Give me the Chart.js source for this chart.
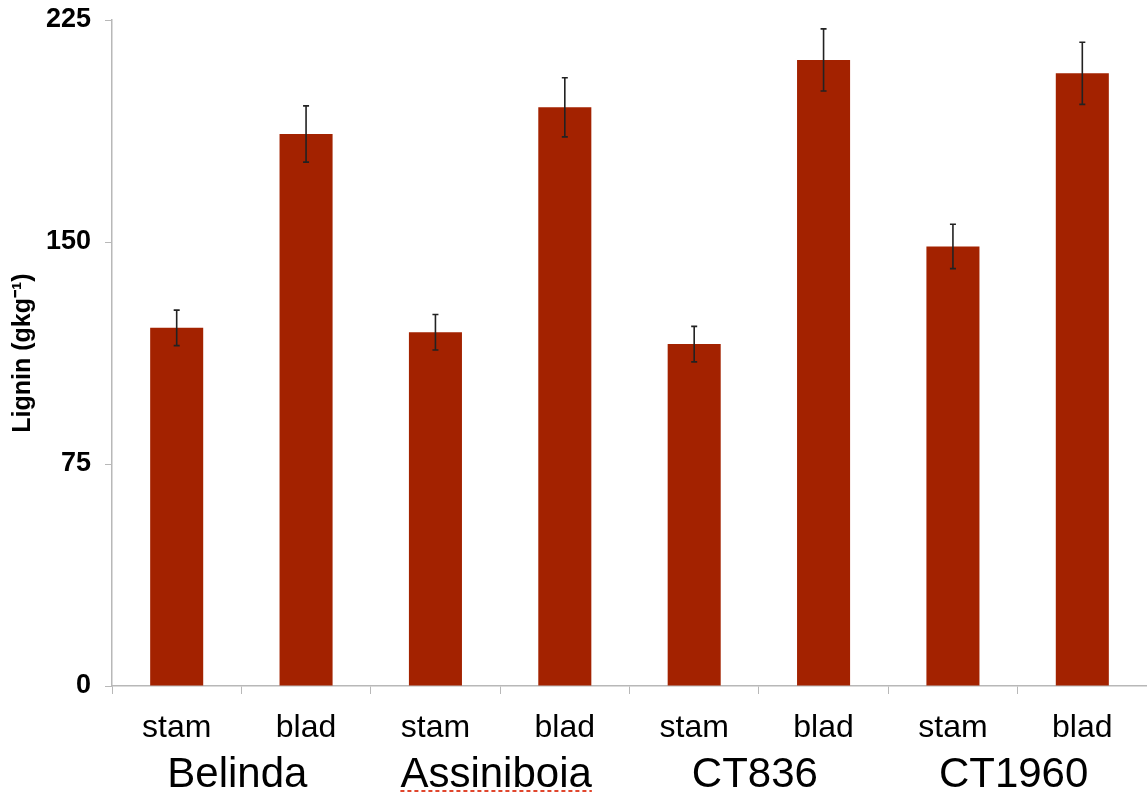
<!DOCTYPE html>
<html>
<head>
<meta charset="utf-8">
<script src="https://cdn.jsdelivr.net/npm/chart.js@4.4.0/dist/chart.umd.min.js"></script>
<style>
    html, body { margin: 0; padding: 0; background: #fff; }
    #wrap { width: 1147px; height: 792px; position: relative; }
</style>
</head>
<body>
<div id="wrap"><canvas id="ligninChart"></canvas></div>
<script>
// Lignin content per cultivar, stem (stam) and leaf blade (blad)
const cultivars = ["Belinda", "Assiniboia", "CT836", "CT1960"];
const parts = ["stam", "blad"];
const lignin = [121, 186.5, 119.5, 195.5, 115.5, 211.5, 148.5, 207];
const ligninErr = [6, 9.5, 6, 10, 6, 10.5, 7.5, 10.5];
const yTicks = [0, 75, 150, 225];
const underlined = ["Assiniboia"];

const labels = [];
cultivars.forEach(function () {
    parts.forEach(function (p) { labels.push(p); });
});

const FONT = "'Liberation Sans', Arial, Helvetica, sans-serif";

// error bars with small caps
const errorBars = {
    id: "errorBars",
    afterDatasetsDraw: function (chart) {
        var ctx = chart.ctx;
        var meta = chart.getDatasetMeta(0);
        var y = chart.scales.y;
        ctx.save();
        ctx.strokeStyle = "#222";
        ctx.lineWidth = 1.6;
        meta.data.forEach(function (bar, i) {
            var v = lignin[i], e = ligninErr[i];
            var top = y.getPixelForValue(v + e);
            var bot = y.getPixelForValue(v - e);
            ctx.beginPath();
            ctx.moveTo(bar.x, top);
            ctx.lineTo(bar.x, bot);
            ctx.moveTo(bar.x - 3, top);
            ctx.lineTo(bar.x + 3, top);
            ctx.moveTo(bar.x - 3, bot);
            ctx.lineTo(bar.x + 3, bot);
            ctx.stroke();
        });
        ctx.restore();
    }
};

// cultivar names under each stam/blad pair
const groupLabels = {
    id: "groupLabels",
    afterDraw: function (chart) {
        var ctx = chart.ctx;
        var x = chart.scales.x;
        ctx.save();
        ctx.font = "42px " + FONT;
        ctx.fillStyle = "#000";
        ctx.textAlign = "center";
        ctx.textBaseline = "alphabetic";
        cultivars.forEach(function (name, g) {
            var cx = (x.getPixelForValue(g * 2) + x.getPixelForValue(g * 2 + 1)) / 2 - 4;
            var base = chart.chartArea.bottom + 101;
            ctx.fillText(name, cx, base);
            if (underlined.indexOf(name) >= 0) {
                var w = ctx.measureText(name).width;
                ctx.strokeStyle = "#e0452c";
                ctx.lineWidth = 2;
                ctx.setLineDash([4, 3]);
                ctx.beginPath();
                ctx.moveTo(cx - w / 2, base + 4);
                ctx.lineTo(cx + w / 2, base + 4);
                ctx.stroke();
                ctx.setLineDash([]);
            }
        });
        ctx.restore();
    }
};

new Chart(document.getElementById("ligninChart"), {
    type: "bar",
    data: {
        labels: labels,
        datasets: [{
            data: lignin,
            backgroundColor: "#a32200",
            borderWidth: 0,
            barPercentage: 0.41,
            categoryPercentage: 1
        }]
    },
    options: {
        responsive: true,
        maintainAspectRatio: false,
        animation: false,
        layout: { padding: { top: 20, right: 0, left: 0, bottom: 0 } },
        plugins: {
            legend: { display: false },
            tooltip: { enabled: false }
        },
        scales: {
            x: {
                grid: {
                    display: true,
                    drawOnChartArea: false,
                    drawTicks: true,
                    tickLength: 8,
                    color: "#b8b8b8",
                    offset: true
                },
                border: { color: "#b8b8b8", width: 1.5 },
                ticks: {
                    color: "#000",
                    font: { family: FONT, size: 32 },
                    padding: 15,
                    maxRotation: 0,
                    autoSkip: false
                },
                afterFit: function (scale) {
                    scale.height = 106;
                    scale.paddingLeft = 0;
                    scale.paddingRight = 0;
                }
            },
            y: {
                min: 0,
                max: 225,
                afterBuildTicks: function (scale) {
                    scale.ticks = yTicks.map(function (v) { return { value: v }; });
                },
                grid: {
                    display: true,
                    drawOnChartArea: false,
                    drawTicks: true,
                    tickLength: 7,
                    color: "#b8b8b8"
                },
                border: { color: "#b8b8b8", width: 1.5 },
                ticks: {
                    color: "#000",
                    font: { family: FONT, size: 27, weight: "bold" },
                    padding: 14
                },
                title: {
                    display: true,
                    text: "Lignin (gkg\u207B\u00B9)",
                    color: "#000",
                    font: { family: FONT, size: 25, weight: "bold" },
                    padding: { top: 8, bottom: 0 }
                },
                afterFit: function (scale) {
                    scale.width = 112;
                    scale.paddingTop = 0;
                    scale.paddingBottom = 0;
                }
            }
        }
    },
    plugins: [errorBars, groupLabels]
});
</script>
</body>
</html>
